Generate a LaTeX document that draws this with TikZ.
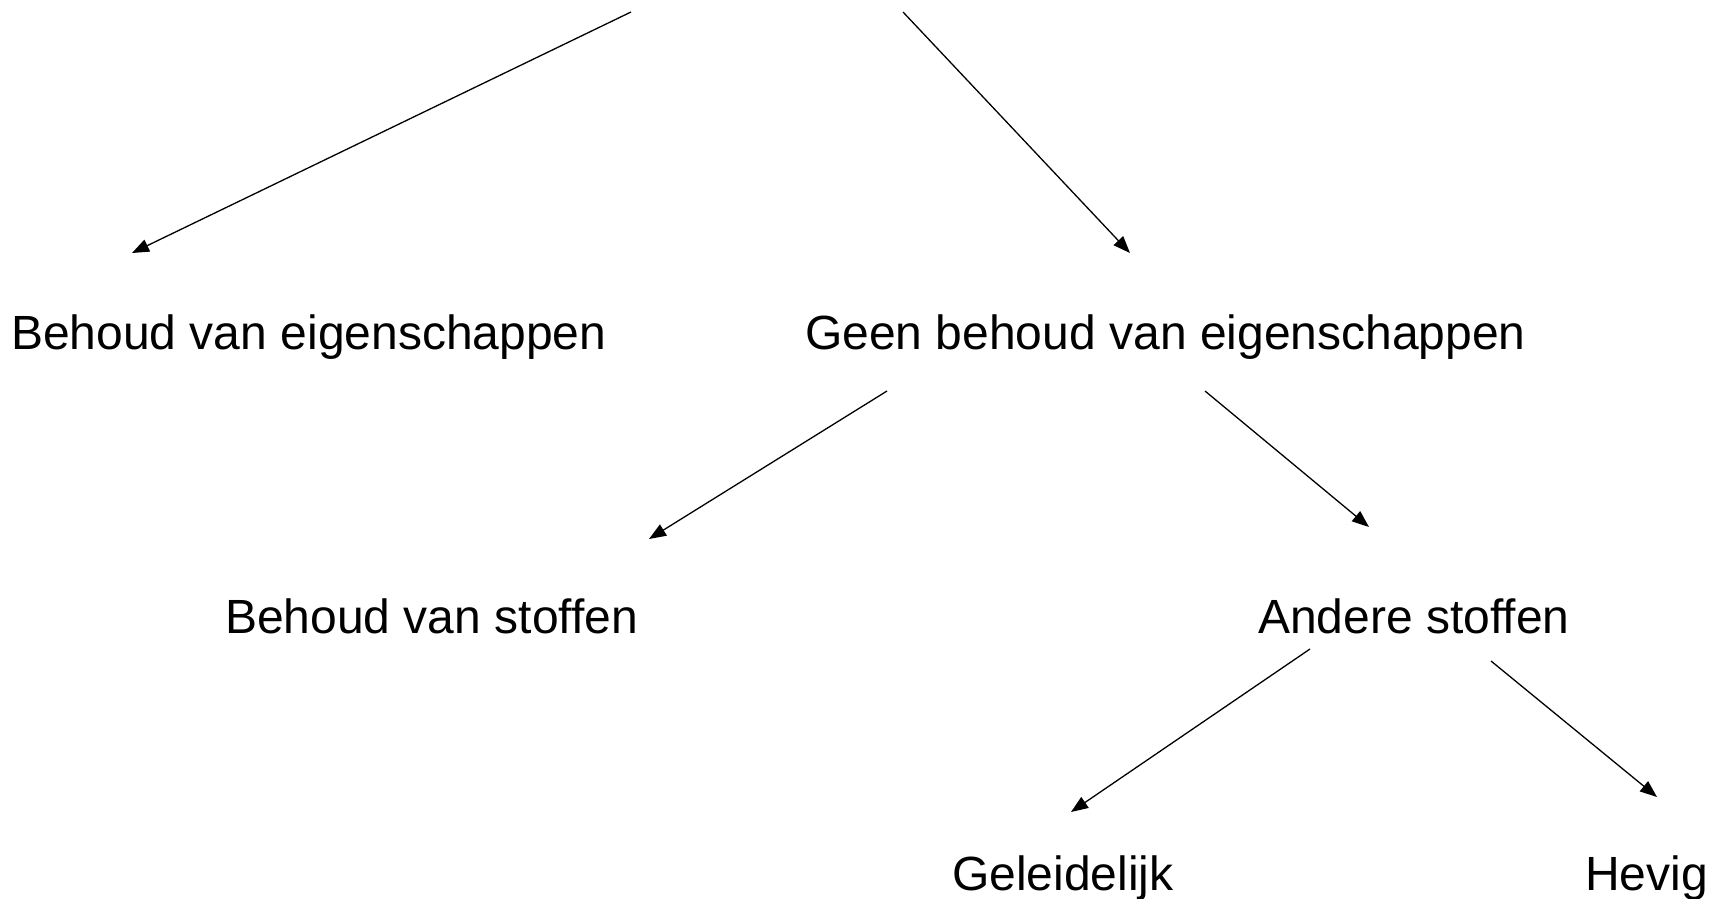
\documentclass[tikz,border=0pt]{standalone}
\usepackage{fontspec}
\setmainfont{Liberation Sans}
\usetikzlibrary{arrows.meta}
\begin{document}
\begin{tikzpicture}[x=1pt,y=-1pt,
  label/.style={anchor=base west,inner sep=0pt,font=\fontsize{48}{58}\selectfont},
  link/.style={line width=1.3pt,-{Triangle[length=17pt,width=13pt]}}]
\useasboundingbox (0,0) rectangle (1713,899);
% category labels, placed by their baselines
\node[label] (eig)   at (11,349)   {Behoud van eigenschappen};
\node[label] (geen)  at (805,349)  {Geen behoud van eigenschappen};
\node[label] (stof)  at (225,633)  {Behoud van stoffen};
\node[label] (ander) at (1258,633) {Andere stoffen};
\node[label] (gel)   at (952,890)  {Geleidelijk};
\node[label] (hev)   at (1585,890) {Hevig};
% free ends of the top arrows and the start points below each label
\coordinate (topL) at (631,12);
\coordinate (topR) at (903,12);
\coordinate (eigIn)   at (132,253);
\coordinate (geenIn)  at (1130,253);
\coordinate (geenOutL) at (887,391);
\coordinate (geenOutR) at (1205,391);
\coordinate (stofIn)  at (649,539);
\coordinate (anderIn) at (1369,527);
\coordinate (anderOutL) at (1310,649);
\coordinate (anderOutR) at (1491,661);
\coordinate (gelIn)   at (1071,812);
\coordinate (hevIn)   at (1657,797);
\draw[link] (topL) -- (eigIn);
\draw[link] (topR) -- (geenIn);
\draw[link] (geenOutL) -- (stofIn);
\draw[link] (geenOutR) -- (anderIn);
\draw[link] (anderOutL) -- (gelIn);
\draw[link] (anderOutR) -- (hevIn);
\end{tikzpicture}
\end{document}
